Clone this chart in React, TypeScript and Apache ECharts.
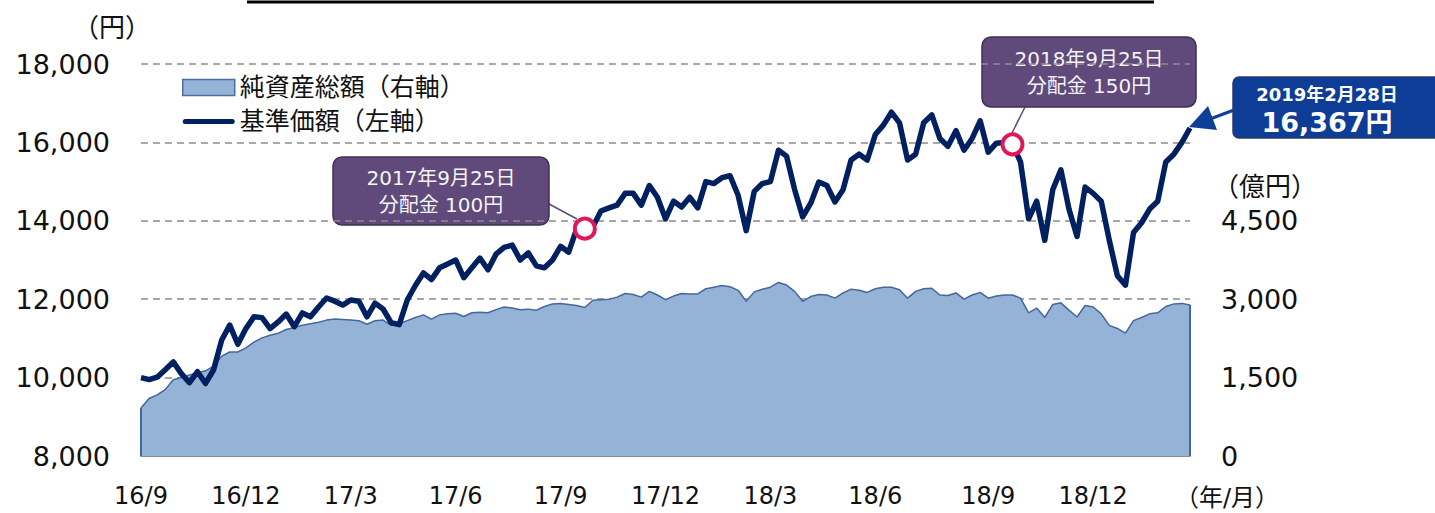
import React, { useEffect, useRef } from "react";
import * as echarts from "echarts";

// Weekly observations, starting 2016/09/02, last one 2019/02/28
const startDate = "2016-09-02";
const lastDate = "2019-02-28";

// 基準価額 (円) – left axis
const navValues = [
  10000, 9950, 10010, 10200, 10400, 10100, 9870, 10150, 9850, 10200,
  10960, 11340, 10850, 11250, 11550, 11530, 11250, 11420, 11620, 11300,
  11650, 11550, 11800, 12030, 11950, 11850, 11980, 11950, 11550, 11900,
  11750, 11400, 11350, 11980, 12350, 12670, 12500, 12800, 12900, 13000,
  12550, 12800, 13050, 12750, 13150, 13320, 13380, 13000, 13180, 12850,
  12800, 13000, 13350, 13200, 13800, 13800, 13850, 14250, 14330, 14400,
  14700, 14700, 14400, 14900, 14600, 14050, 14500, 14350, 14600, 14330,
  15000, 14950, 15100, 15150, 14650, 13750, 14750, 14950, 15000, 15800,
  15650, 14800, 14100, 14450, 14990, 14900, 14480, 14790, 15550, 15700,
  15550, 16200, 16440, 16770, 16500, 15550, 15700, 16500, 16700, 16100,
  15900, 16300, 15800, 16100, 16550, 15750, 15980, 16000, 15950, 15500,
  14050, 14500, 13500, 14800, 15300, 14300, 13600, 14860, 14700, 14500,
  13500, 12600, 12360, 13700, 13950, 14300, 14500, 15500, 15700, 16000,
  16367,
];

// 純資産総額 (億円) – right axis
const assetValues = [
  920, 1100, 1170, 1270, 1460, 1500, 1550, 1590, 1630, 1720,
  1910, 1990, 1990, 2070, 2180, 2260, 2310, 2350, 2420, 2460,
  2500, 2530, 2560, 2600, 2620, 2610, 2600, 2590, 2520, 2590,
  2600, 2500, 2530, 2590, 2650, 2700, 2620, 2700, 2720, 2730,
  2670, 2740, 2750, 2740, 2800, 2850, 2830, 2800, 2810, 2790,
  2860, 2910, 2920, 2900, 2880, 2840, 2980, 2990, 3000, 3040,
  3110, 3090, 3040, 3150, 3080, 2990, 3060, 3110, 3100, 3100,
  3200, 3230, 3260, 3240, 3170, 2960, 3140, 3190, 3230, 3320,
  3270, 3150, 2960, 3050, 3090, 3080, 3020, 3120, 3190, 3170,
  3130, 3200, 3230, 3230, 3180, 3020, 3150, 3200, 3210, 3080,
  3070, 3120, 3000, 3080, 3130, 3020, 3060, 3080, 3080, 3020,
  2740, 2830, 2650, 2900, 2930, 2790, 2660, 2880, 2850, 2720,
  2500, 2440, 2350, 2590, 2650, 2720, 2740, 2860, 2910, 2920,
  2890,
];

const leftTicks = { min: 8000, max: 18000, interval: 2000 };
const rightTicks = { min: 0, max: 7500, interval: 1500, shownMax: 4500 };

const dividends = [
  { date: "2017/09/22", label: "2017年9月25日", text: "分配金 100円" },
  { date: "2018/09/28", label: "2018年9月25日", text: "分配金 150円" },
];
const latest = { label: "2019年2月28日", text: "16,367円" };

const seriesNames = ["純資産総額（右軸）", "基準価額（左軸）"];

function pad(n: number) {
  return n < 10 ? "0" + n : "" + n;
}
function buildDates(): string[] {
  const base = new Date(startDate + "T00:00:00Z").getTime();
  const out: string[] = [];
  for (let i = 0; i < navValues.length; i++) {
    const d = new Date(base + i * 7 * 86400000);
    out.push(`${d.getUTCFullYear()}/${pad(d.getUTCMonth() + 1)}/${pad(d.getUTCDate())}`);
  }
  out[out.length - 1] = lastDate.replace(/-/g, "/");
  return out;
}

const FONT = "'DejaVu Sans', 'Noto Sans CJK JP', sans-serif";
const LINE_ICON =
  "path://M2.5,0H49.5A2.5,2.5,0,0,1,49.5,5H2.5A2.5,2.5,0,0,1,2.5,0Z";

export default function App() {
  const ref = useRef<HTMLDivElement>(null);
  useEffect(() => {
    if (!ref.current) return;
    const chart = echarts.init(ref.current, undefined, { renderer: "svg" });
    const dates = buildDates();
    const month = (i: number) => parseInt(dates[i].slice(5, 7), 10);
    const isQuarter = (i: number) =>
      i === 0 || (month(i) !== month(i - 1) && month(i) % 3 === 0);
    const idx1 = dates.indexOf(dividends[0].date);
    const idx2 = dates.indexOf(dividends[1].date);
    const last = dates.length - 1;

    const boxText = (x: number, y: number, w: number, h: number, lines: string) => ({
      type: "group",
      children: [
        {
          type: "rect",
          shape: { x, y, width: w, height: h, r: 9 },
          style: { fill: "#604A7B", stroke: "#3F3151", lineWidth: 1.5 },
        },
        {
          type: "text",
          x: x + w / 2,
          y: y + h / 2,
          style: {
            text: lines,
            fill: "#F4F4F4",
            font: `20px ${FONT}`,
            align: "center",
            verticalAlign: "middle",
            lineHeight: 27,
          },
        },
      ],
    });

    chart.setOption({
      animation: false,
      textStyle: { fontFamily: FONT },
      grid: { left: 141, right: 245, top: 64, bottom: 57 },
      legend: {
        orient: "vertical",
        left: 177,
        top: 66,
        itemWidth: 52,
        itemHeight: 16,
        itemGap: 1,
        textStyle: { fontSize: 25, color: "#111", fontFamily: FONT, lineHeight: 33 },
        data: [
          {
            name: seriesNames[0],
            icon: "rect",
            itemStyle: { color: "#95B3D7", borderColor: "#4A6FA5", borderWidth: 1.5 },
          },
          {
            name: seriesNames[1],
            icon: LINE_ICON,
            itemStyle: { color: "#002060", borderWidth: 0 },
          },
        ],
      },
      xAxis: {
        type: "category",
        data: dates,
        boundaryGap: false,
        axisLine: { lineStyle: { color: "#8C8C8C", width: 2 } },
        axisTick: {
          inside: true,
          length: 9,
          interval: (i: number) => isQuarter(i),
          lineStyle: { color: "#8C8C8C", width: 1.5 },
        },
        axisLabel: {
          interval: (i: number) => isQuarter(i),
          formatter: (v: string) => `${v.slice(2, 4)}/${parseInt(v.slice(5, 7), 10)}`,
          fontSize: 24,
          color: "#111",
          margin: 28,
          hideOverlap: false,
        },
        splitLine: { show: false },
      },
      yAxis: [
        {
          type: "value",
          min: leftTicks.min,
          max: leftTicks.max,
          interval: leftTicks.interval,
          axisLine: { show: false },
          axisTick: { show: false },
          axisLabel: {
            fontSize: 27,
            color: "#111",
            margin: 31,
            formatter: (v: number) => v.toLocaleString("en-US"),
          },
          splitLine: {
            lineStyle: { color: "#8C8C8C", width: 1.5, type: [7, 5] },
          },
        },
        {
          type: "value",
          min: rightTicks.min,
          max: rightTicks.max,
          interval: rightTicks.interval,
          axisLine: { show: false },
          axisTick: { show: false },
          splitLine: { show: false },
          axisLabel: {
            fontSize: 27,
            color: "#111",
            margin: 31,
            formatter: (v: number) => (v > rightTicks.shownMax ? "" : v.toLocaleString("en-US")),
          },
        },
      ],
      series: [
        {
          name: seriesNames[0],
          type: "line",
          yAxisIndex: 1,
          data: assetValues,
          symbol: "none",
          lineStyle: { color: "#44679C", width: 1.5 },
          itemStyle: { color: "#95B3D7" },
          areaStyle: { color: "#95B3D7", opacity: 1 },
          z: 1,
          markLine: {
            silent: true,
            symbol: "none",
            label: { show: false },
            lineStyle: { color: "#44679C", width: 2, type: "solid" },
            data: [
              [{ coord: [dates[0], 0] }, { coord: [dates[0], assetValues[0]] }],
              [{ coord: [dates[last], 0] }, { coord: [dates[last], assetValues[last]] }],
            ],
          },
        },
        {
          name: seriesNames[1],
          type: "line",
          yAxisIndex: 0,
          data: navValues,
          symbol: "none",
          symbolKeepAspect: true,
          lineStyle: { color: "#002060", width: 5.5, join: "round" },
          itemStyle: { color: "#002060" },
          z: 3,
          markPoint: {
            symbol: "circle",
            symbolSize: 20,
            label: { show: false },
            itemStyle: { color: "#FFFFFF", borderColor: "#E0185A", borderWidth: 4 },
            data: [
              { coord: [dates[idx1], navValues[idx1]] },
              { coord: [dates[idx2], navValues[idx2]] },
            ],
          },
        },
      ],
      graphic: [
        {
          type: "line",
          shape: { x1: 247, y1: 2, x2: 1154, y2: 2 },
          style: { stroke: "#000", lineWidth: 3 },
        },
        {
          type: "text",
          x: 112,
          y: 28,
          style: { text: "（円）", font: `26px ${FONT}`, fill: "#111", align: "center", verticalAlign: "middle" },
        },
        {
          type: "text",
          x: 1265,
          y: 187,
          style: { text: "（億円）", font: `26px ${FONT}`, fill: "#111", align: "center", verticalAlign: "middle" },
        },
        {
          type: "text",
          x: 1227,
          y: 498,
          style: { text: "（年/月）", font: `24px ${FONT}`, fill: "#111", align: "center", verticalAlign: "middle" },
        },
        {
          type: "line",
          shape: { x1: 549, y1: 204, x2: 577, y2: 219 },
          style: { stroke: "#604A7B", lineWidth: 1.5 },
        },
        {
          type: "line",
          shape: { x1: 1025, y1: 107, x2: 1012, y2: 133 },
          style: { stroke: "#604A7B", lineWidth: 1.5 },
        },
        boxText(333, 157, 216, 68, `${dividends[0].label}\n${dividends[0].text}`),
        boxText(982, 37, 214, 70, `${dividends[1].label}\n${dividends[1].text}`),
        {
          type: "line",
          shape: { x1: 1234, y1: 110, x2: 1210, y2: 119 },
          style: { stroke: "#0F3E99", lineWidth: 3 },
        },
        {
          type: "polygon",
          shape: { points: [[1189, 127], [1208, 106], [1217, 130]] },
          style: { fill: "#0F3E99" },
        },
        {
          type: "rect",
          shape: { x: 1233, y: 77, width: 210, height: 61, r: 6 },
          style: { fill: "#0D3D96", stroke: "#2A3A6A", lineWidth: 1.5 },
        },
        {
          type: "text",
          x: 1327,
          y: 94,
          style: { text: latest.label, font: `bold 18px ${FONT}`, fill: "#FFFFFF", align: "center", verticalAlign: "middle" },
        },
        {
          type: "text",
          x: 1327,
          y: 122,
          style: { text: latest.text, font: `bold 27px ${FONT}`, fill: "#FFFFFF", align: "center", verticalAlign: "middle" },
        },
      ],
    });
    return () => chart.dispose();
  }, []);
  return <div ref={ref} style={{ width: 1435, height: 513, position: "absolute", left: 0, top: 0 }} />;
}
